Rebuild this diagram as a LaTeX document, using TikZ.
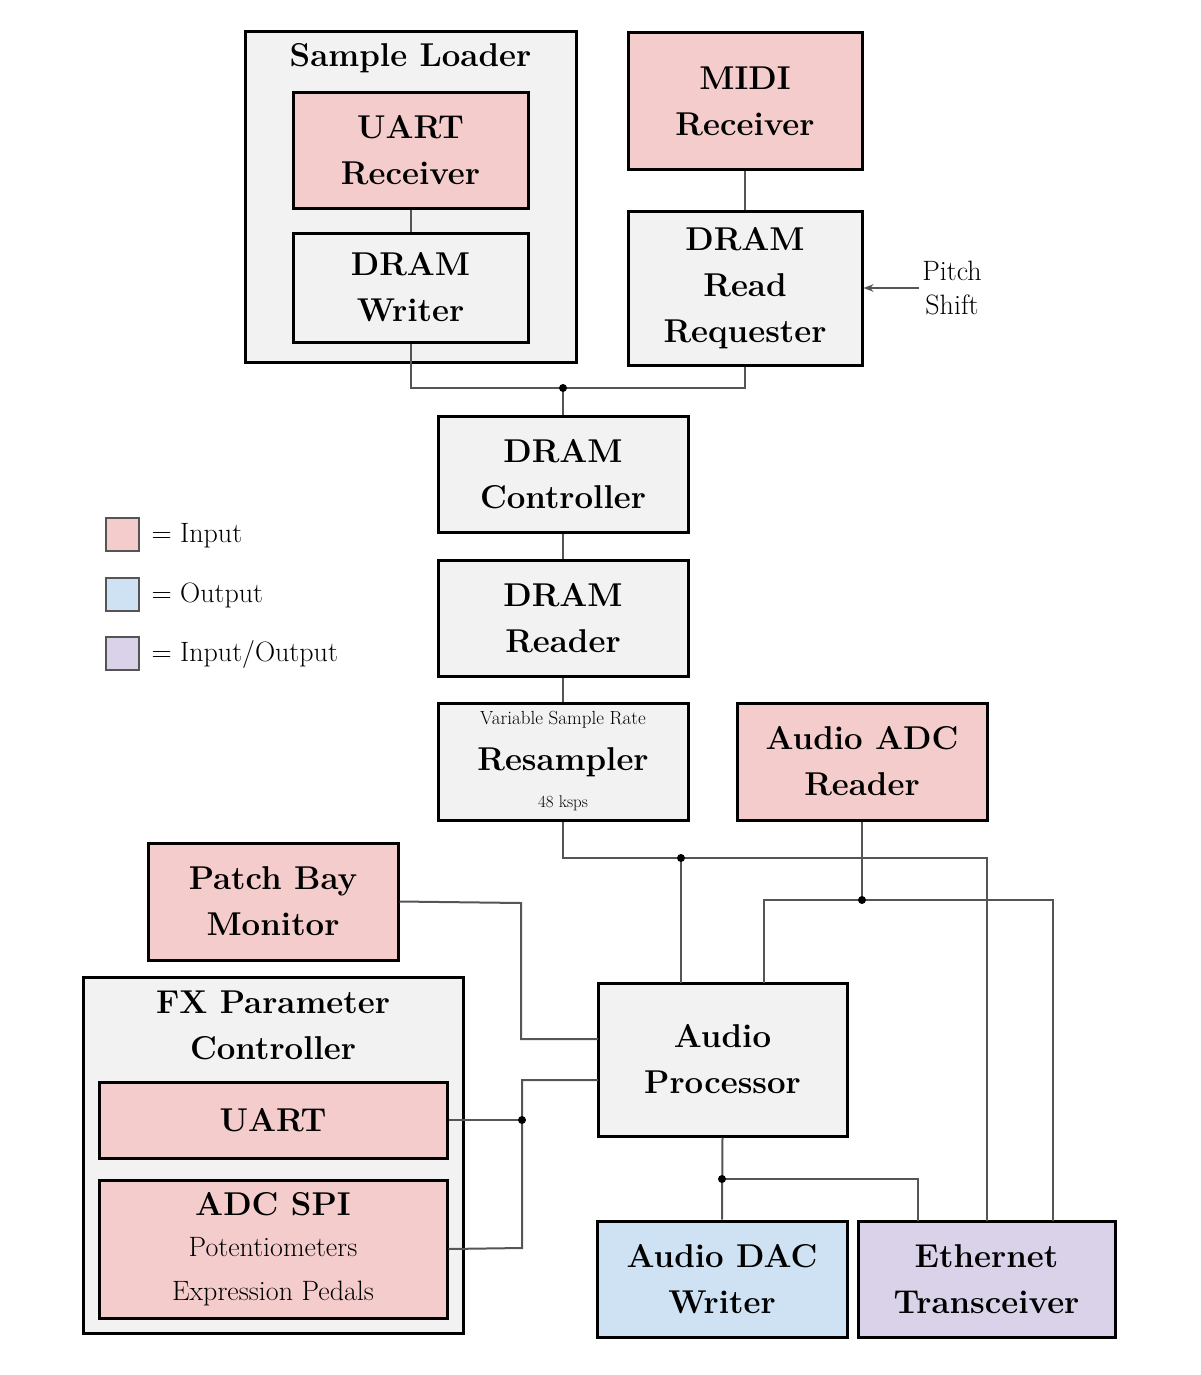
\documentclass[tikz,border=0pt]{standalone}
\usetikzlibrary{arrows.meta}
\definecolor{inp}{HTML}{F4CCCC}
\definecolor{outp}{HTML}{CFE2F3}
\definecolor{io}{HTML}{D9D2E9}
\definecolor{gbox}{HTML}{F2F2F2}
\definecolor{wire}{HTML}{555555}
\begin{document}
\begin{tikzpicture}[x=1pt,y=-1pt,
  box/.style={draw=black,line width=3pt,inner sep=0pt,align=center,
    font=\fontsize{33}{46}\selectfont\bfseries},
  gray box/.style={box,fill=gbox},
  in box/.style={box,fill=inp},
  wire/.style={draw=wire,line width=2pt},
  dot/.style={circle,fill=black,inner sep=0pt,minimum size=8pt},
  lbl/.style={font=\fontsize{28}{34}\selectfont,align=center}]
\useasboundingbox (0,0) rectangle (1200,1375);
% Sample loader
\node[gray box,minimum width=331pt,minimum height=330pt] (sl) at (410.5,197) {};
\node[font=\fontsize{33}{40}\selectfont\bfseries] (slt) at (410.5,58) {Sample Loader};
\node[in box,minimum width=235pt,minimum height=115pt] (uartr) at (410.5,150.5) {UART\\Receiver};
\node[gray box,minimum width=235pt,minimum height=109pt] (dw) at (410.5,287.5) {DRAM\\Writer};
% MIDI
\node[in box,minimum width=234pt,minimum height=137pt] (midi) at (745,101.5) {MIDI\\Receiver};
\node[gray box,minimum width=234pt,minimum height=154pt] (drr) at (745,288) {DRAM\\Read\\Requester};
\node[lbl] (ps) at (952,288) {Pitch\\Shift};
\node[gray box,minimum width=250pt,minimum height=116pt] (dc) at (563,474) {DRAM\\Controller};
\node[gray box,minimum width=250pt,minimum height=116pt] (dr) at (563,618) {DRAM\\Reader};
\node[gray box,minimum width=250pt,minimum height=117pt] (rs) at (563,761.5) {};
\node[font=\fontsize{19}{22}\selectfont] (rs1) at (563,720) {Variable Sample Rate};
\node[font=\fontsize{33}{40}\selectfont\bfseries] (rs2) at (563,762) {Resampler};
\node[font=\fontsize{17}{20}\selectfont] (rs3) at (563,803) {48 ksps};
\node[in box,minimum width=250pt,minimum height=117pt] (adc) at (862,761.5) {Audio ADC\\Reader};
\node[in box,minimum width=250pt,minimum height=117pt] (pb) at (273,901.5) {Patch Bay\\Monitor};
% FX
\node[gray box,minimum width=380pt,minimum height=356pt] (fx) at (273,1155) {};
\node[font=\fontsize{33}{46}\selectfont\bfseries,align=center] (fxt) at (273,1025) {FX Parameter\\Controller};
\node[in box,minimum width=348pt,minimum height=76pt] (uart) at (273,1120) {UART};
\node[in box,minimum width=348pt,minimum height=138pt] (spi) at (273,1249) {};
\node[font=\fontsize{33}{40}\selectfont\bfseries] (spit) at (273,1204) {ADC SPI};
\node[lbl] (spi2) at (273,1247) {Potentiometers};
\node[lbl] (spi3) at (273,1293) {Expression Pedals};
% audio
\node[gray box,minimum width=249pt,minimum height=153pt] (ap) at (722.5,1059.5) {Audio\\Processor};
\node[box,fill=outp,minimum width=250pt,minimum height=116pt] (dac) at (722,1279) {Audio DAC\\Writer};
\node[box,fill=io,minimum width=257pt,minimum height=116pt] (eth) at (986.5,1279) {Ethernet\\Transceiver};
% legend
\node[draw=wire,line width=2pt,fill=inp,minimum size=33pt,inner sep=0pt] (l1) at (122.5,534.5) {};
\node[draw=wire,line width=2pt,fill=outp,minimum size=33pt,inner sep=0pt] (l2) at (122.5,594) {};
\node[draw=wire,line width=2pt,fill=io,minimum size=33pt,inner sep=0pt] (l3) at (122.5,653) {};
\node[lbl,anchor=west] (lt1) at (148,536) {= Input};
\node[lbl,anchor=west] (lt2) at (148,595) {= Output};
\node[lbl,anchor=west] (lt3) at (148,654) {= Input/Output};
% coordinates
\coordinate (j1) at (563,388);
\coordinate (j2) at (681,858);
\coordinate (j3) at (862,900);
\coordinate (j4) at (522,1120);
\coordinate (j5) at (722,1179);
% wires
\draw[wire] (uartr.south) -- (dw.north);
\draw[wire] (midi.south) -- (drr.north);
\draw[wire,-{Stealth[length=10pt]}] (ps.west) -- (drr.east);
\draw[wire] (dw.south) |- (j1) -| (drr.south);
\draw[wire] (j1) -- (dc.north);
\draw[wire] (dc.south) -- (dr.north);
\draw[wire] (dr.south) -- (rs.north);
\draw[wire] (rs.south) |- (j2) -- (987,858) -- (987,1221);
\draw[wire] (j2) -- (681,983);
\draw[wire] (adc.south) -- (j3);
\draw[wire] (764,983) -- (764,900) -- (1053,900) -- (1053,1221);
\draw[wire] (pb.east) -- (521,903) -- (521,1039) -- (598,1039);
\draw[wire] (uart.east) -- (j4);
\draw[wire] (spi.east) -- (522,1248) -- (522,1080) -- (598,1080);
\draw[wire] (ap.south) -- (dac.north);
\draw[wire] (j5) -- (918,1179) -- (918,1221);
\foreach \j in {j1,j2,j3,j4,j5} \node[dot] at (\j) {};
\end{tikzpicture}
\end{document}
